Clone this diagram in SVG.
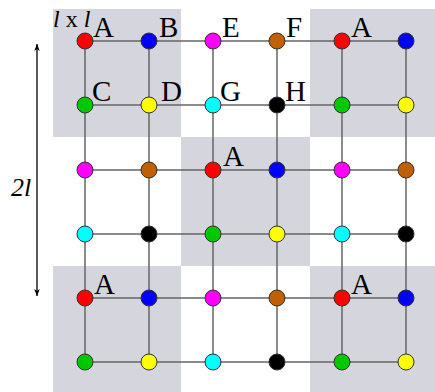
<svg xmlns="http://www.w3.org/2000/svg" width="435" height="392" viewBox="0 0 435 392">
<defs>
<style>
.bg{fill:#d5d6dd}
.ln{stroke:#666;stroke-width:1.5;fill:none}
.n{stroke:#333;stroke-width:1}
.t{font-family:"Liberation Serif","Times New Roman",serif;font-size:29px;fill:#000}
.s{font-size:24px}
.i{font-style:italic}
.r{fill:#ff0000}.b{fill:#0000ff}.m{fill:#ff00ff}.o{fill:#c06000}
.g{fill:#00c800}.y{fill:#ffff00}.c{fill:#00ffff}.k{fill:#000}
</style>
<marker id="ah" viewBox="0 0 10 10" refX="10" refY="5" markerWidth="7" markerHeight="9" orient="auto" markerUnits="userSpaceOnUse">
<path d="M0,1 L10,5 L0,9 L3,5 Z" fill="#000"/>
</marker>
</defs>
<rect width="435" height="392" fill="#fff"/>
<g id="tiles">
<rect class="bg" x="53" y="9" width="128" height="128"/>
<rect class="bg" x="310" y="9" width="125" height="128"/>
<rect class="bg" x="181" y="137" width="129" height="129"/>
<rect class="bg" x="53" y="266" width="128" height="126"/>
<rect class="bg" x="310" y="266" width="125" height="126"/>
</g>
<g id="connectors">
<path class="ln" d="M85,41H406M85,105H406M85,170H406M85,234H406M85,298H406M85,362H406"/>
<path class="ln" d="M85,41V362M149,41V362M213,41V362M277,41V362M342,41V362M406,41V362"/>
<line x1="37" y1="170" x2="37" y2="44" stroke="#000" stroke-width="1.3" marker-end="url(#ah)"/>
<line x1="37" y1="170" x2="37" y2="296" stroke="#000" stroke-width="1.3" marker-end="url(#ah)"/>
</g>
<g id="nodes">
<g id="r0">
<circle class="n r" cx="85" cy="41" r="8"/><circle class="n b" cx="149" cy="41" r="8"/><circle class="n m" cx="213" cy="41" r="8"/><circle class="n o" cx="277" cy="41" r="8"/><circle class="n r" cx="342" cy="41" r="8"/><circle class="n b" cx="406" cy="41" r="8"/>
</g>
<g id="r1">
<circle class="n g" cx="85" cy="105" r="8"/><circle class="n y" cx="149" cy="105" r="8"/><circle class="n c" cx="213" cy="105" r="8"/><circle class="n k" cx="277" cy="105" r="8"/><circle class="n g" cx="342" cy="105" r="8"/><circle class="n y" cx="406" cy="105" r="8"/>
</g>
<g id="r2">
<circle class="n m" cx="85" cy="170" r="8"/><circle class="n o" cx="149" cy="170" r="8"/><circle class="n r" cx="213" cy="170" r="8"/><circle class="n b" cx="277" cy="170" r="8"/><circle class="n m" cx="342" cy="170" r="8"/><circle class="n o" cx="406" cy="170" r="8"/>
</g>
<g id="r3">
<circle class="n c" cx="85" cy="234" r="8"/><circle class="n k" cx="149" cy="234" r="8"/><circle class="n g" cx="213" cy="234" r="8"/><circle class="n y" cx="277" cy="234" r="8"/><circle class="n c" cx="342" cy="234" r="8"/><circle class="n k" cx="406" cy="234" r="8"/>
</g>
<g id="r4">
<circle class="n r" cx="85" cy="298" r="8"/><circle class="n b" cx="149" cy="298" r="8"/><circle class="n m" cx="213" cy="298" r="8"/><circle class="n o" cx="277" cy="298" r="8"/><circle class="n r" cx="342" cy="298" r="8"/><circle class="n b" cx="406" cy="298" r="8"/>
</g>
<g id="r5">
<circle class="n g" cx="85" cy="362" r="8"/><circle class="n y" cx="149" cy="362" r="8"/><circle class="n c" cx="213" cy="362" r="8"/><circle class="n k" cx="277" cy="362" r="8"/><circle class="n g" cx="342" cy="362" r="8"/><circle class="n y" cx="406" cy="362" r="8"/>
</g>
</g>
<g id="labels">
<text class="t s" x="53" y="27"><tspan class="i">l</tspan> x <tspan class="i">l</tspan></text>
<text class="t" x="93" y="37">A</text>
<text class="t" x="159" y="37">B</text>
<text class="t" x="222" y="37">E</text>
<text class="t" x="286" y="37">F</text>
<text class="t" x="351" y="37">A</text>
<text class="t" x="92" y="101">C</text>
<text class="t" x="161" y="101">D</text>
<text class="t" x="220" y="101">G</text>
<text class="t" x="285" y="101">H</text>
<text class="t" x="223" y="166">A</text>
<text class="t" x="94" y="294">A</text>
<text class="t" x="351" y="294">A</text>
<text class="t i" x="11" y="196" style="font-size:26px">2l</text>
</g>
</svg>
